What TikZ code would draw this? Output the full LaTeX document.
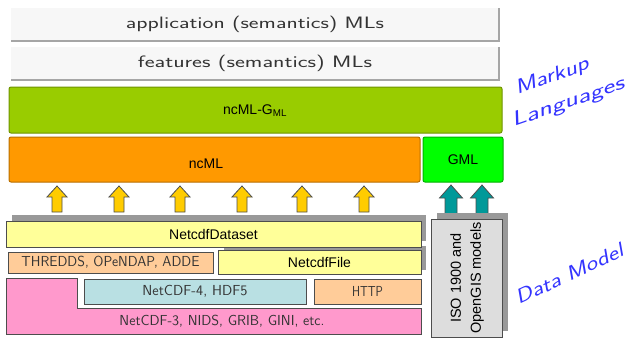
\documentclass[tikz,border=0pt]{standalone}
\usepackage{fontspec}
\setmainfont{Liberation Sans}
\usepackage{graphicx}
\newcommand{\fitw}[2]{\resizebox{#1}{\height}{#2}}
\definecolor{topfill}{HTML}{F7F7F7}
\definecolor{topedge}{HTML}{A6A6A6}
\definecolor{lime}{HTML}{99CC00}
\definecolor{limeedge}{HTML}{6E9400}
\definecolor{orng}{HTML}{FF9900}
\definecolor{orngedge}{HTML}{B86E00}
\definecolor{brgreen}{HTML}{00FF00}
\definecolor{brgreenedge}{HTML}{00B000}
\definecolor{arrowyellow}{HTML}{FFCC00}
\definecolor{tealarrow}{HTML}{009999}
\definecolor{lightyellow}{HTML}{FFFF99}
\definecolor{peach}{HTML}{FFCC99}
\definecolor{pinkish}{HTML}{FF99CC}
\definecolor{paleblue}{HTML}{B9E0E3}
\definecolor{isogray}{HTML}{DDDDDD}
\definecolor{shadowgray}{HTML}{999999}
\definecolor{handblue}{HTML}{3333FF}
\definecolor{edgedark}{HTML}{4D4D4D}
\definecolor{handtext}{HTML}{333333}
\begin{document}
\begin{tikzpicture}[x=1pt,y=-1pt,
  base/.style={rectangle, inner sep=0pt, outer sep=0pt},
  topbox/.style={base, fill=topfill, text=handtext, font=\sffamily\fontsize{16.5}{16.5}\selectfont},
  mlbox/.style={base, rounded corners=2pt, line width=1pt, font=\fontsize{14}{14}\selectfont},
  dmbox/.style={base, draw=edgedark, line width=0.8pt, font=\fontsize{14}{14}\selectfont},
  handbox/.style={dmbox, text=handtext, font=\sffamily\fontsize{14.5}{14.5}\selectfont},
  bluetext/.style={text=handblue, inner sep=0pt, font=\sffamily\itshape\fontsize{20}{20}\selectfont},
  yarrow/.pic={\draw[fill=arrowyellow, draw=edgedark, line width=0.8pt, line join=miter]
      (-5,13) -- (-5,-2) -- (-10,-2) -- (0,-13) -- (10,-2) -- (5,-2) -- (5,13) -- cycle;},
  tarrow/.pic={\draw[fill=tealarrow, draw=edgedark, line width=0.8pt, line join=miter]
      (-6,14.5) -- (-6,-1.5) -- (-11.5,-1.5) -- (0,-14.5) -- (11.5,-1.5) -- (6,-1.5) -- (6,14.5) -- cycle;}
]
\useasboundingbox (0,0) rectangle (626,338);

% top semantic layers
\node[topbox, minimum width=488, minimum height=33] (app) at (255,24.5)
  {\fitw{258pt}{application (semantics) MLs}};
\draw[topedge, line width=1.2pt] (app.north east) -- (app.south east) -- (app.south west);
\node[topbox, minimum width=488, minimum height=33] (feat) at (255,63.5)
  {\fitw{234pt}{features (semantics) MLs}};
\draw[topedge, line width=1.2pt] (feat.north east) -- (feat.south east) -- (feat.south west);

% markup language boxes
\node[mlbox, fill=lime, draw=limeedge, minimum width=493, minimum height=46] (ncmlg) at (255.5,110) {};
\node[inner sep=0pt] (ncmlgtext) at (255,111) {\fontsize{14}{14}\selectfont ncML-G\textsubscript{ML}};
\node[mlbox, fill=orng, draw=orngedge, minimum width=411, minimum height=45] (ncml) at (214.5,159.5) {};
\node[inner sep=0pt] (ncmltext) at (206,164) {\fontsize{14}{14}\selectfont ncML};
\node[mlbox, fill=brgreen, draw=brgreenedge, minimum width=80, minimum height=45] (gml) at (463,159.5) {GML};

% arrows
\foreach \xx in {57,119,180,242,302,364} { \pic at (\xx,199) {yarrow}; }
\pic at (451,199.5) {tarrow};
\pic at (482,199.5) {tarrow};

% shadows
\fill[shadowgray] (12,215) rectangle (426,241);
\fill[shadowgray] (224,246) rectangle (426,270);
\fill[shadowgray] (436.5,213) rectangle (507.5,331);

% data model boxes
\node[dmbox, fill=lightyellow, minimum width=415, minimum height=26] (dataset) at (213.5,234) {NetcdfDataset};
\node[handbox, fill=peach, minimum width=205, minimum height=21] (thredds) at (110.5,262.5)
  {\fitw{178pt}{THREDDS, OPeNDAP, ADDE}};
\node[dmbox, fill=lightyellow, minimum width=203, minimum height=24] (ncfile) at (319.5,262) {NetcdfFile};
\draw[fill=pinkish, draw=edgedark, line width=0.8pt]
  (6,278) -- (77,278) -- (77,308) -- (421,308) -- (421,334) -- (6,334) -- cycle;
\node[text=handtext, inner sep=0pt, font=\sffamily\fontsize{14.5}{14.5}\selectfont] (nc3) at (222,321.5)
  {\fitw{205pt}{NetCDF-3, NIDS, GRIB, GINI, etc.}};
\node[handbox, fill=paleblue, minimum width=222, minimum height=25] (nc4) at (195,291.5)
  {\fitw{105pt}{NetCDF-4, HDF5}};
\node[handbox, fill=peach, minimum width=107, minimum height=25] (http) at (367.5,291.5)
  {\fitw{31pt}{HTTP}};
\node[dmbox, fill=isogray, minimum width=71, minimum height=118] (iso) at (466.5,278) {};
\node[rotate=90, align=center, inner sep=0pt, font=\fontsize{14.5}{20}\selectfont] (isotext) at (467,278)
  {ISO 1900 and\\OpenGIS models};

% side labels
\node[bluetext, rotate=20] (markup) at (552,77) {\fitw{77pt}{Markup}};
\node[bluetext, rotate=19] (langs) at (568,103) {\fitw{118pt}{Languages}};
\node[bluetext, rotate=25] (datamodel) at (569,274) {\fitw{117pt}{Data Model}};
\end{tikzpicture}
\end{document}
